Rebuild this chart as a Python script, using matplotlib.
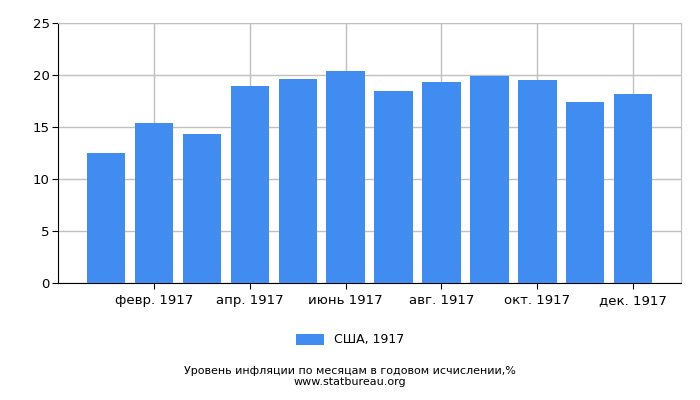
import matplotlib
matplotlib.use("Agg")
import matplotlib.pyplot as plt

# Données : inflation mensuelle en glissement annuel, USA 1917
months = ["янв. 1917", "февр. 1917", "март 1917", "апр. 1917", "май 1917", "июнь 1917",
          "июль 1917", "авг. 1917", "сент. 1917", "окт. 1917", "нояб. 1917", "дек. 1917"]
values = [12.5, 15.4, 14.3, 18.9, 19.6, 20.4, 18.5, 19.3, 19.9, 19.5, 17.4, 18.2]
y_ticks = [0, 5, 10, 15, 20, 25]

fig = plt.figure(figsize=(7, 4), dpi=100)
ax = fig.add_axes([0.083, 0.2925, 0.89, 0.65])

x = list(range(len(values)))
ax.bar(x, values, width=0.8, color="#418cf0", label="США, 1917", zorder=3)

ax.set_xlim(-1, 12)
ax.set_ylim(0, 25)
ax.set_yticks(y_ticks)
ax.set_xticks(x[1::2])
ax.set_xticklabels(months[1::2], fontsize=9.5)
ax.tick_params(axis="y", labelsize=9.5, length=4, pad=2)
ax.tick_params(axis="x", length=4, pad=4)
ax.grid(True, color="#c0c0c0", linewidth=1, zorder=0)

for side in ["top", "right"]:
    ax.spines[side].set_color("#c0c0c0")
for side in ["left", "bottom"]:
    ax.spines[side].set_color("#000000")

fig.legend(loc="center", bbox_to_anchor=(0.5, 0.15), frameon=False,
           fontsize=9, handlelength=2.2, handleheight=1.0)
fig.text(0.5, 0.073, "Уровень инфляции по месяцам в годовом исчислении,%",
         ha="center", va="center", fontsize=8)
fig.text(0.5, 0.046, "www.statbureau.org", ha="center", va="center", fontsize=8)

fig.savefig("out.png", dpi=100)
